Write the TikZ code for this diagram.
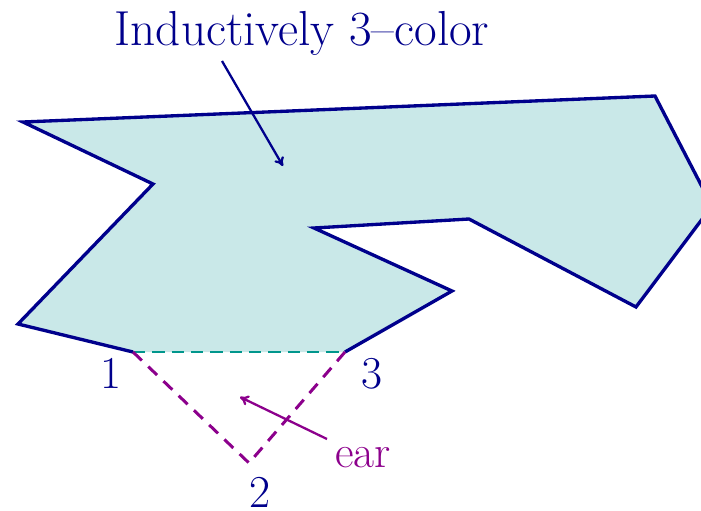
\documentclass[tikz,border=0pt]{standalone}
\usetikzlibrary{arrows.meta}
\definecolor{navy}{RGB}{0,0,140}
\definecolor{fillc}{RGB}{201,232,232}
\definecolor{tealc}{RGB}{0,150,140}
\definecolor{purp}{RGB}{140,0,140}
\tikzset{
  edge/.style={draw=navy,line width=1.9pt,line join=miter},
  lbl/.style={text=navy,font=\fontsize{26}{30}\selectfont,inner sep=0pt},
  earline/.style={draw=purp,line width=1.7pt,dash pattern=on 7pt off 5pt},
  diag/.style={draw=tealc,line width=1.1pt,dash pattern=on 7pt off 4pt},
}
\begin{document}
\begin{tikzpicture}[x=0.02cm,y=-0.02cm]
\useasboundingbox (0,0) rectangle (701,511);
\begin{scope}
\clip (0,0) rectangle (701,511);
\coordinate (a) at (23,122);
\coordinate (b) at (655,96);
\coordinate (c) at (712,206);
\coordinate (d) at (636,307);
\coordinate (e) at (469,219);
\coordinate (f) at (314,228);
\coordinate (g) at (452,291);
\coordinate (v3) at (345,352);
\coordinate (v1) at (133,352);
\coordinate (h) at (18,324);
\coordinate (i) at (153,184);
\coordinate (v2) at (249,463);
\fill[fillc] (a)--(b)--(c)--(d)--(e)--(f)--(g)--(v3)--(v1)--(h)--(i)--cycle;
\draw[edge] (v3)--(g)--(f)--(e)--(d)--(c)--(b)--(a)--(i)--(h)--(v1);
\draw[diag] (v1)--(v3);
\draw[earline] (v1)--(v2)--(v3);
\end{scope}
\node[lbl,font=\fontsize{28}{32}\selectfont] (title) at (302,33) {Inductively 3--color};
\coordinate (ts) at (222,61);
\coordinate (te) at (283,166);
\draw[navy,line width=1.3pt,-{To[length=5pt,width=6pt]}] (ts)--(te);
\node[lbl] (n1) at (111,373) {1};
\node[lbl] (n3) at (372,374) {3};
\node[lbl] (n2) at (260,492) {2};
\node[lbl,text=purp,anchor=base west] (ear) at (335,467) {ear};
\coordinate (es) at (327,439);
\coordinate (ee) at (240,397);
\draw[purp,line width=1.3pt,-{To[length=5pt,width=6pt]}] (es)--(ee);
\end{tikzpicture}
\end{document}
